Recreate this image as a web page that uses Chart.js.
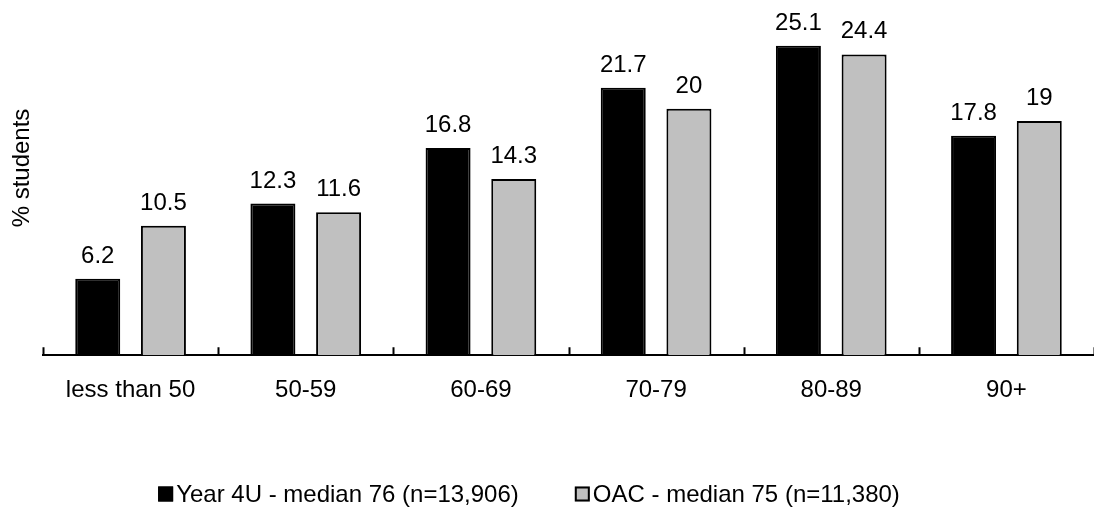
<!DOCTYPE html>
<html>
<head>
<meta charset="utf-8">
<style>
  html, body { margin: 0; padding: 0; background: #fff; overflow: hidden; }
  #wrap { width: 1094px; height: 512px; position: relative; }
</style>
<script src="https://cdn.jsdelivr.net/npm/chart.js@4.4.1/dist/chart.umd.min.js"></script>
</head>
<body>
<div id="wrap"><canvas id="chart"></canvas></div>
<script>
var categories = ["less than 50", "50-59", "60-69", "70-79", "80-89", "90+"];
var year4uValues = [6.2, 12.3, 16.8, 21.7, 25.1, 17.8];
var oacValues = [10.5, 11.6, 14.3, 20, 24.4, 19];
var seriesNames = ["Year 4U - median 76 (n=13,906)", "OAC - median 75 (n=11,380)"];
var yTitle = "% students";

var FONT = "'Liberation Sans', Arial, sans-serif";

// value labels above bars, category ticks pointing up, y title and legend
var extras = {
  id: "extras",
  afterDatasetsDraw: function (chart) {
    var ctx = chart.ctx;
    ctx.save();
    ctx.font = "24px " + FONT;
    ctx.fillStyle = "#000";
    ctx.textAlign = "center";
    ctx.textBaseline = "alphabetic";
    chart.data.datasets.forEach(function (ds, i) {
      chart.getDatasetMeta(i).data.forEach(function (bar, j) {
        ctx.fillText(String(ds.data[j]), bar.x, bar.y - 16);
      });
    });

    // category boundary ticks
    var xs = chart.scales.x;
    var n = categories.length;
    ctx.strokeStyle = "#000";
    ctx.lineWidth = 2;
    ctx.beginPath();
    for (var k = 0; k <= n; k++) {
      var px = Math.round(xs.left + k * (xs.width / n)) + 0.5;
      ctx.moveTo(px, xs.top);
      ctx.lineTo(px, xs.top - 8);
    }
    ctx.stroke();

    // y-axis title
    ctx.save();
    ctx.translate(22, 168);
    ctx.rotate(-Math.PI / 2);
    ctx.textBaseline = "middle";
    ctx.fillText(yTitle, 0, 0);
    ctx.restore();

    // legend
    var box = 15, gap = 3, itemGap = 56;
    var widths = seriesNames.map(function (s) { return ctx.measureText(s).width; });
    var total = widths.reduce(function (a, w) { return a + box + gap + w; }, 0) + itemGap * (widths.length - 1);
    var x = chart.width / 2 - 18 - total / 2;
    var y = chart.height - 18;
    ctx.textAlign = "left";
    ctx.textBaseline = "middle";
    chart.data.datasets.forEach(function (ds, i) {
      ctx.fillStyle = ds.backgroundColor;
      ctx.fillRect(x, y - box / 2, box, box);
      ctx.lineWidth = 2;
      ctx.strokeStyle = "#000";
      ctx.strokeRect(x + 1, y - box / 2 + 1, box - 2, box - 2);
      ctx.fillStyle = "#000";
      ctx.fillText(seriesNames[i], x + box + gap, y + 1);
      x += box + gap + widths[i] + itemGap;
    });
    ctx.restore();
  }
};

new Chart(document.getElementById("chart"), {
  type: "bar",
  data: {
    labels: categories,
    datasets: [
      {
        label: seriesNames[0],
        data: year4uValues,
        backgroundColor: "#000000",
        borderColor: "#000000",
        borderWidth: 2,
        borderSkipped: "bottom"
      },
      {
        label: seriesNames[1],
        data: oacValues,
        backgroundColor: "#c0c0c0",
        borderColor: "#000000",
        borderWidth: 2,
        borderSkipped: "bottom"
      }
    ]
  },
  options: {
    responsive: true,
    maintainAspectRatio: false,
    animation: false,
    categoryPercentage: 0.75,
    barPercentage: 0.685,
    layout: { padding: { left: 43, right: 0, top: 10, bottom: 86 } },
    plugins: {
      legend: { display: false },
      tooltip: { enabled: false }
    },
    scales: {
      x: {
        grid: { display: false, drawTicks: false },
        border: { display: true, color: "#000", width: 2 },
        ticks: { color: "#000", padding: 21, font: { family: FONT, size: 24 } }
      },
      y: {
        display: false,
        min: 0,
        max: 28
      }
    }
  },
  plugins: [extras]
});
</script>
</body>
</html>
